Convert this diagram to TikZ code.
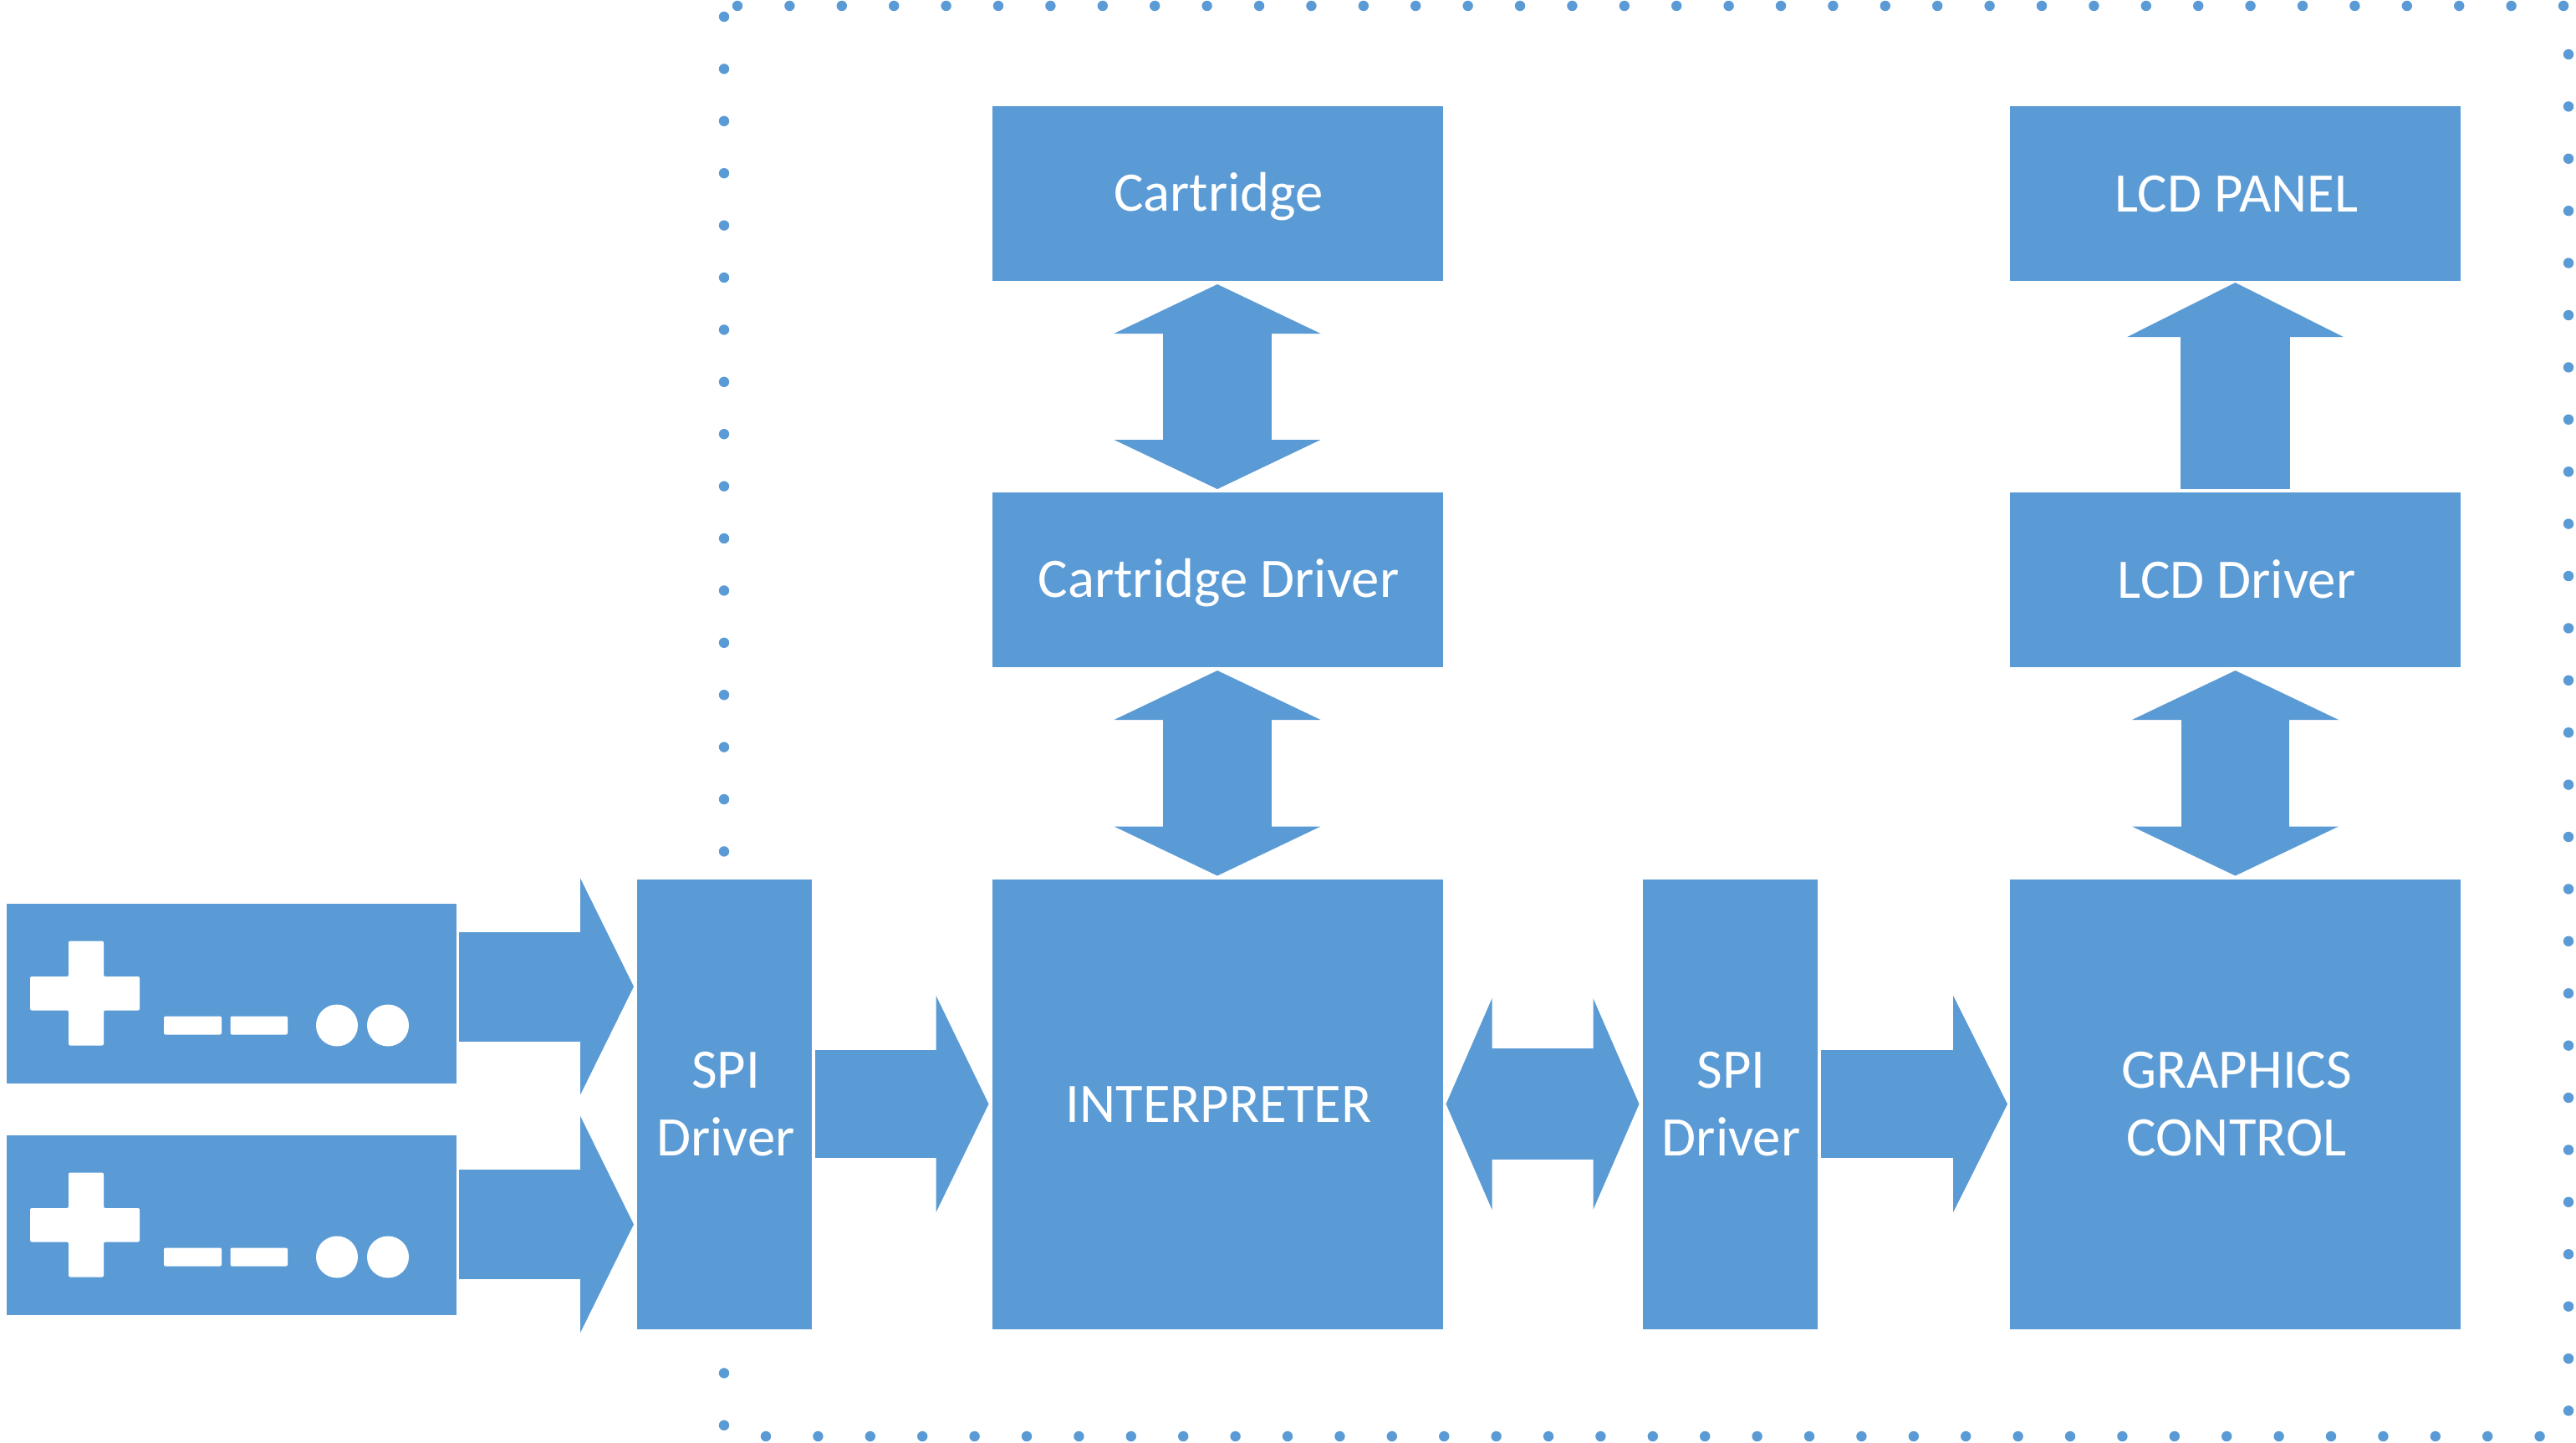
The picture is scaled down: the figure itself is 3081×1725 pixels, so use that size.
\documentclass[tikz,border=0pt]{standalone}
\usepackage{fontspec}
\setmainfont{Carlito}
\usetikzlibrary{arrows.meta}
\definecolor{blockblue}{HTML}{5B9BD5}
\newcommand{\lnstrut}{\hspace*{3pt}\rule[-10pt]{0pt}{63pt}}
\tikzset{
  blockbox/.style={rectangle,fill=blockblue,text=white,inner sep=0pt,outer sep=0pt,align=center,
    font=\fontsize{66.7}{81}\selectfont},
  wide/.style={minimum width=539pt},
  narrow/.style={minimum width=209pt,minimum height=538pt},
  short/.style={minimum height=209pt},
  big/.style={minimum height=538pt},
  pad/.style={minimum width=538pt,minimum height=215pt},
  conn/.style={draw=blockblue,fill=none,line cap=butt},
  dotmark/.style={fill=blockblue},
  iconwhite/.style={fill=white,rounded corners=2pt}
}
\newcommand{\hd}[2]{Triangle[length=#1pt,width=#2pt,fill=blockblue]}
\begin{document}
\begin{tikzpicture}[x=1pt,y=-1pt]
\useasboundingbox (0,0) rectangle (3081,1725);
% dotted frame
\foreach \k in {0,...,16,26,27} \fill[dotmark] (866,20+62.4*\k) circle (6.2);
\foreach \k in {0,...,35} \fill[dotmark] (882+62.4*\k,7) circle (6.2);
\foreach \k in {0,...,26} \fill[dotmark] (3072,65+62.4*\k) circle (6.2);
\foreach \k in {0,...,34} \fill[dotmark] (916+62.4*\k,1718) circle (6.2);
% blocks
\node[blockbox,wide,short] (cart) at (1456,231.5) {\lnstrut Cartridge};
\node[blockbox,wide,short] (cartd) at (1456,693.5) {\lnstrut Cartridge Driver};
\node[blockbox,wide,big] (interp) at (1456,1320.5) {\lnstrut INTERPRETER};
\node[blockbox,narrow] (spiA) at (866.5,1320.5) {\lnstrut SPI\\\lnstrut Driver};
\node[blockbox,narrow] (spiB) at (2069,1320.5) {\lnstrut SPI\\\lnstrut Driver};
\node[blockbox,wide,big] (gfx) at (2673.5,1320.5) {\lnstrut GRAPHICS\\\lnstrut CONTROL};
\node[blockbox,wide,short] (lcd) at (2673.5,231.5) {\lnstrut LCD PANEL};
\node[blockbox,wide,short] (lcdd) at (2673.5,693.5) {\lnstrut LCD Driver};
\node[blockbox,pad] (ctrlA) at (277,1188) {};
\node[blockbox,pad] (ctrlB) at (277,1465) {};
% controller icons
\foreach \dy in {0.5,277.5}{
  \begin{scope}[shift={(0,\dy)}]
    \fill[iconwhite] (82,1125) -- (124,1125) -- (124,1167.5) -- (167,1167.5) -- (167,1208) -- (124,1208) -- (124,1250) -- (82,1250) -- (82,1208) -- (36,1208) -- (36,1167.5) -- (82,1167.5) -- cycle;
    \fill[iconwhite] (196,1215) rectangle (265,1237);
    \fill[iconwhite] (275.5,1215) rectangle (344,1237);
    \fill[white] (403,1226) circle (25);
    \fill[white] (464,1226) circle (25);
  \end{scope}
}
% connectors
\coordinate (inA) at (0,1180);
\coordinate (inB) at (0,1464.5);
\draw[conn,line width=131pt,-{\hd{64}{257}},shorten <=3pt,shorten >=4pt] (ctrlA.east |- inA) -- (spiA.west |- inA);
\draw[conn,line width=131pt,-{\hd{64}{257}},shorten <=3pt,shorten >=4pt] (ctrlB.east |- inB) -- (spiA.west |- inB);
\draw[conn,line width=129pt,-{\hd{63}{257}},shorten <=4pt,shorten >=4pt] (spiA.east) -- (interp.west);
\draw[conn,line width=133pt,{\hd{55}{251}}-{\hd{55}{251}},shorten <=4pt,shorten >=4pt] (interp.east) -- (spiB.west);
\draw[conn,line width=129pt,-{\hd{65}{257}},shorten <=4pt,shorten >=3pt] (spiB.east) -- (gfx.west);
\draw[conn,line width=130pt,{\hd{59}{245}}-{\hd{59}{245}},shorten <=4pt,shorten >=4pt] (cart.south) -- (cartd.north);
\draw[conn,line width=130pt,{\hd{59}{245}}-{\hd{59}{245}},shorten <=4pt,shorten >=4pt] (cartd.south) -- (interp.north);
\draw[conn,line width=131pt,-{\hd{65}{256}},shorten <=4.5pt,shorten >=2pt] (lcdd.north) -- (lcd.south);
\draw[conn,line width=129pt,{\hd{59}{245}}-{\hd{59}{245}},shorten <=4pt,shorten >=4pt] (lcdd.south) -- (gfx.north);
\end{tikzpicture}
\end{document}
